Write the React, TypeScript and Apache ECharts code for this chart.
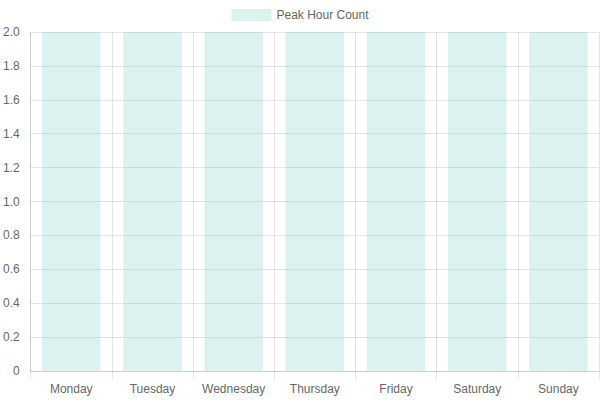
import React, { useEffect, useRef } from "react";
import * as echarts from "echarts";

const categories = ["Monday", "Tuesday", "Wednesday", "Thursday", "Friday", "Saturday", "Sunday"];
const peakHourCount = [2, 2, 2, 2, 2, 2, 2];
const seriesName = "Peak Hour Count";

export default function App() {
  const ref = useRef<HTMLDivElement>(null);
  useEffect(() => {
    document.body.style.margin = "0";
    const chart = echarts.init(ref.current!, undefined, { renderer: "svg" });
    const grid = "rgba(0,0,0,0.1)";
    const font = "'Liberation Sans', Arial, Helvetica, sans-serif";
    chart.setOption({
      animation: false,
      textStyle: { fontFamily: font },
      legend: {
        top: 4,
        left: "center",
        itemWidth: 40,
        itemHeight: 12,
        icon: "rect",
        textStyle: { color: "#666", fontSize: 12, fontFamily: font },
        data: [seriesName],
      },
      grid: { left: 30, right: 1, top: 32, bottom: 29, containLabel: false },
      xAxis: {
        type: "category",
        data: categories,
        boundaryGap: true,
        axisLine: { show: true, lineStyle: { color: grid } },
        axisTick: { show: true, length: 8, interval: 0, lineStyle: { color: grid } },
        splitLine: { show: true, interval: 0, lineStyle: { color: grid } },
        axisLabel: { color: "#666", fontSize: 12, margin: 12, interval: 0, fontFamily: font },
      },
      yAxis: {
        type: "value",
        min: 0,
        max: 2,
        interval: 0.2,
        axisLine: { show: true, lineStyle: { color: grid } },
        axisTick: { show: false },
        splitLine: { show: true, lineStyle: { color: grid } },
        axisLabel: {
          color: "#666",
          fontSize: 12,
          margin: 11,
          fontFamily: font,
          formatter: (v: number) => (v === 0 ? "0" : v.toFixed(1)),
        },
      },
      series: [
        {
          name: seriesName,
          type: "bar",
          data: peakHourCount,
          barCategoryGap: "28%",
          itemStyle: { color: "rgba(75,192,175,0.2)" },
        },
      ],
    });
    return () => chart.dispose();
  }, []);
  return <div ref={ref} style={{ width: 600, height: 400, position: "absolute", left: 0, top: 0 }} />;
}
